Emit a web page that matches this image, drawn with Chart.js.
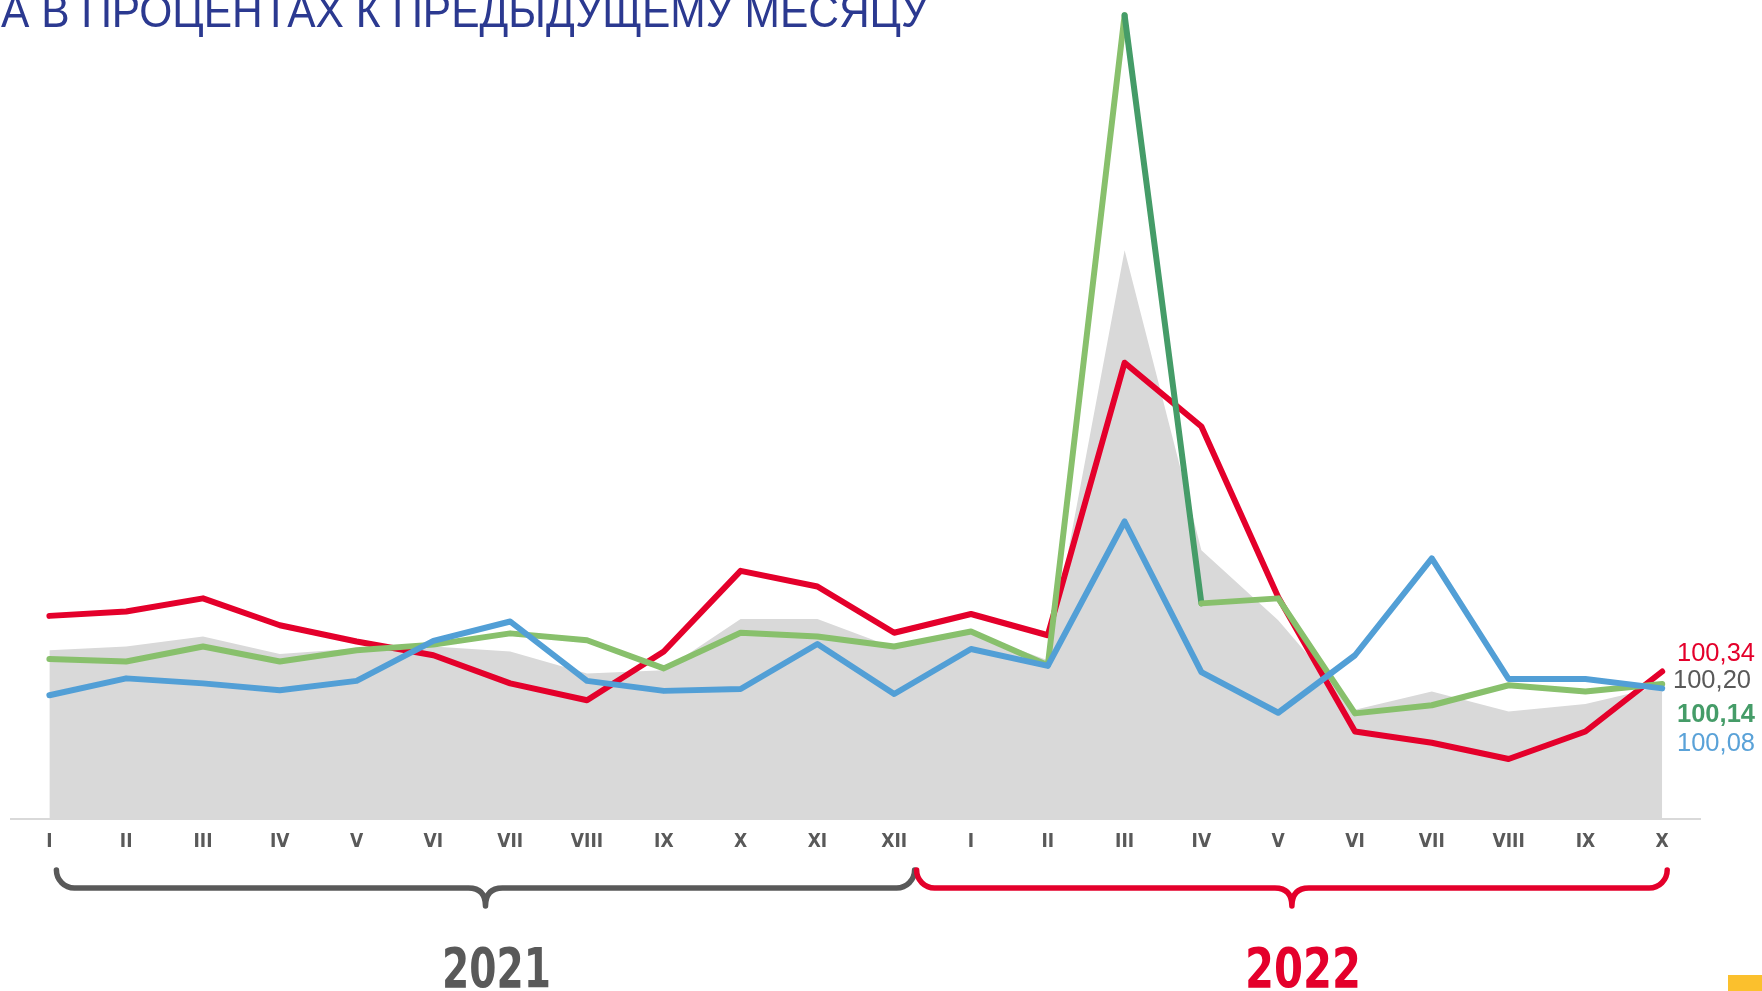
<!DOCTYPE html>
<html lang="ru">
<head>
  <meta charset="UTF-8" />
  <title>Индексы цен в процентах к предыдущему месяцу</title>
  <script src="https://cdn.jsdelivr.net/npm/chart.js"></script>
  <style>
    html, body {
      margin: 0;
      padding: 0;
      background: #fff;
      overflow: hidden;
    }
    #wrap {
      position: relative;
      width: 1762px;
      height: 991px;
    }
    #title {
      position: absolute;
      left: 1px;
      top: -12px;
      font: 46px/1 'Liberation Sans Narrow', 'Liberation Sans', Arial, sans-serif;
      color: #2b3990;
      white-space: nowrap;
      transform-origin: 0 0;
    }
    canvas {
      position: absolute;
      left: 0;
      top: 0;
    }
    #mark {
      position: absolute;
      left: 1728px;
      top: 975px;
      width: 34px;
      height: 16px;
      background: #fbc02d;
    }
  </style>
</head>
<body>
  <div id="wrap">
    <canvas id="chart" width="1762" height="991"></canvas>
    <div id="title">А В ПРОЦЕНТАХ К ПРЕДЫДУЩЕМУ МЕСЯЦУ</div>
    <div id="mark"></div>
  </div>

  <script>
    // месяцы 2021 (I-XII) и 2022 (I-X)
    const months = ['I', 'II', 'III', 'IV', 'V', 'VI', 'VII', 'VIII', 'IX', 'X', 'XI', 'XII',
                    'I', 'II', 'III', 'IV', 'V', 'VI', 'VII', 'VIII', 'IX', 'X'];

    const redValues = [101.25, 101.32, 101.53, 101.10, 100.84, 100.62, 100.17, 99.90, 100.68, 101.97, 101.72, 100.98,
                       101.28, 100.94, 105.30, 104.28, 101.55, 99.40, 99.22, 98.96, 99.40, 100.36];
    const greenValues = [100.56, 100.52, 100.76, 100.52, 100.70, 100.79, 100.97, 100.86, 100.41, 100.98, 100.92, 100.76,
                         101.00, 100.46, 110.86, 101.45, 101.53, 99.69, 99.82, 100.14, 100.04, 100.16];
    const blueValues = [99.98, 100.25, 100.17, 100.06, 100.21, 100.85, 101.16, 100.21, 100.05, 100.08, 100.80, 100.00,
                        100.72, 100.45, 102.76, 100.35, 99.70, 100.62, 102.17, 100.24, 100.24, 100.09];
    const grayValues = [100.70, 100.76, 100.92, 100.64, 100.73, 100.76, 100.68, 100.33, 100.38, 101.20, 101.20, 100.74,
                        100.99, 100.54, 107.10, 102.30, 101.18, 99.75, 100.04, 99.72, 99.84, 100.13];

    const endLabels = ['100,34', '100,20', '100,14', '100,08'];
    const years = ['2021', '2022'];
    const yearSpans = [[0, 11], [12, 21]];

    const RED = '#e4002b';
    const GREEN = '#88c06c';
    const GREEN_DARK = '#459c68';
    const BLUE = '#529fd6';
    const GRAY = '#d9d9d9';
    const TEXT_GRAY = '#595959';
    const NARROW = "'Liberation Sans Narrow', 'DejaVu Sans Condensed', 'Liberation Sans', sans-serif";

    // скобки, подписи лет и значения справа
    const decor = {
      id: 'decor',
      afterDraw(chart) {
        const ctx = chart.ctx;
        const x = chart.scales.x;
        const px = i => x.getPixelForValue(i);

        const yH = 888, r = 18, tip = 906, r2 = 17;
        const braceColors = [TEXT_GRAY, RED];
        const ends = [
          [px(yearSpans[0][0]) + 7, px(yearSpans[0][1] + 0.5) - 18],
          [px(yearSpans[1][0] - 0.5) - 16, px(yearSpans[1][1]) + 5]
        ];

        ends.forEach(([x1, x2], k) => {
          const xm = (x1 + x2) / 2;
          ctx.save();
          ctx.strokeStyle = braceColors[k];
          ctx.lineWidth = 5.5;
          ctx.lineCap = 'round';
          ctx.lineJoin = 'round';
          ctx.beginPath();
          ctx.moveTo(x1, yH - r);
          ctx.arcTo(x1, yH, x1 + r, yH, r);
          ctx.lineTo(xm - r2, yH);
          ctx.quadraticCurveTo(xm, yH, xm, tip);
          ctx.quadraticCurveTo(xm, yH, xm + r2, yH);
          ctx.lineTo(x2 - r, yH);
          ctx.arcTo(x2, yH, x2, yH - r, r);
          ctx.stroke();
          ctx.restore();

          // год
          const widths = [109, 116];
          ctx.save();
          ctx.font = 'bold 55px ' + NARROW;
          ctx.fillStyle = braceColors[k];
          ctx.textAlign = 'center';
          ctx.textBaseline = 'alphabetic';
          const w = ctx.measureText(years[k]).width;
          ctx.translate(xm + 11, 987);
          ctx.scale(widths[k] / w, 1);
          ctx.fillText(years[k], 0, 0);
          ctx.restore();
        });

        // значения за последний месяц
        const labelColors = [RED, TEXT_GRAY, GREEN_DARK, '#5aa2d8'];
        const labelY = [660.7, 688.3, 721.7, 750.7];
        const labelX = [1677, 1673, 1677, 1677];
        ctx.save();
        ctx.textAlign = 'left';
        ctx.textBaseline = 'alphabetic';
        endLabels.forEach((t, i) => {
          ctx.font = (i === 2 ? 'bold ' : '') + "25.5px 'Liberation Sans', Arial, sans-serif";
          ctx.fillStyle = labelColors[i];
          ctx.fillText(t, labelX[i], labelY[i]);
        });
        ctx.restore();
      }
    };

    const lineStyle = {
      borderWidth: 6,
      pointRadius: 0,
      borderCapStyle: 'round',
      borderJoinStyle: 'round',
      tension: 0,
      fill: false
    };

    new Chart(document.getElementById('chart').getContext('2d'), {
      type: 'line',
      data: {
        labels: months,
        datasets: [
          Object.assign({ label: 'blue', data: blueValues, borderColor: BLUE }, lineStyle),
          Object.assign({
            label: 'green', data: greenValues, borderColor: GREEN,
            segment: { borderColor: c => c.p0DataIndex === 14 ? GREEN_DARK : undefined }
          }, lineStyle),
          Object.assign({ label: 'red', data: redValues, borderColor: RED }, lineStyle),
          {
            label: 'gray', data: grayValues,
            borderWidth: 0, pointRadius: 0, tension: 0,
            backgroundColor: GRAY, borderColor: GRAY,
            fill: 'start'
          }
        ]
      },
      options: {
        responsive: false,
        animation: false,
        layout: { padding: { left: 11, right: 61.4, top: 0, bottom: 0 } },
        plugins: {
          legend: { display: false },
          tooltip: { enabled: false }
        },
        scales: {
          x: {
            offset: true,
            grid: { display: true, drawOnChartArea: false, drawTicks: false },
            border: { display: true, color: GRAY, width: 2 },
            ticks: {
              color: TEXT_GRAY,
              padding: 12,
              maxRotation: 0,
              autoSkip: false,
              font: { family: NARROW, size: 19, weight: 'bold' }
            },
            afterFit: s => { s.height = 172; }
          },
          y: {
            display: false,
            min: 98,
            max: 111.104
          }
        }
      },
      plugins: [decor]
    });

    // заголовок подгоняем по ширине
    const title = document.getElementById('title');
    const tw = title.getBoundingClientRect().width;
    title.style.transform = 'scaleX(' + (927 / tw) + ')';
  </script>
</body>
</html>
